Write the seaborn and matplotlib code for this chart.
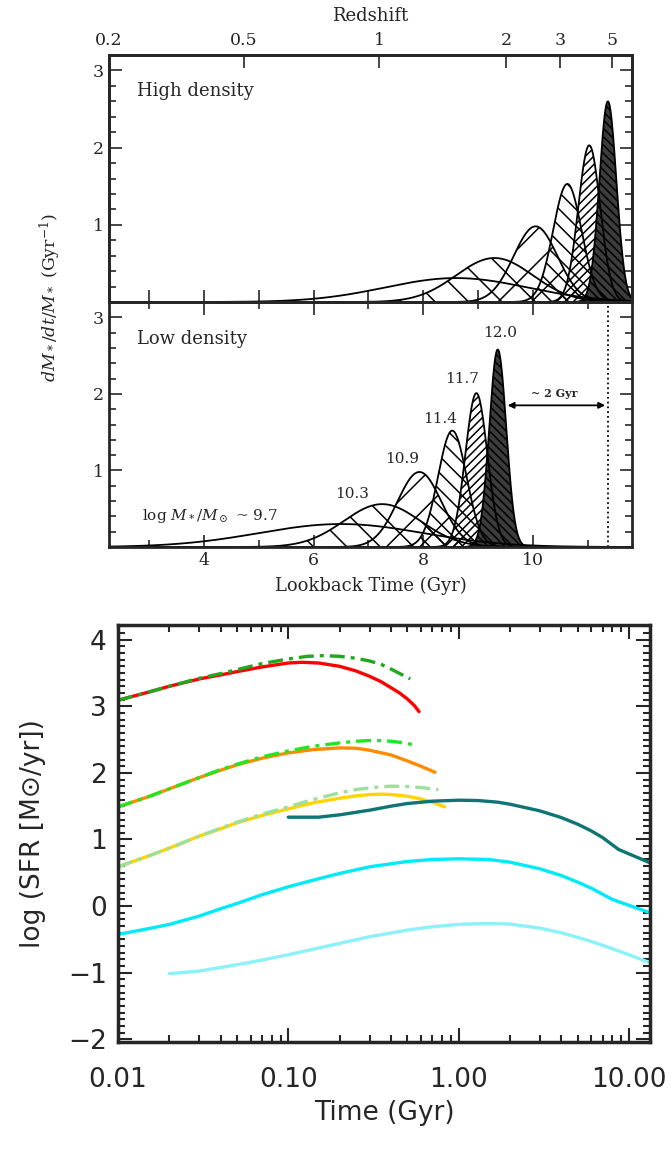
import numpy as np
import pandas as pd
import matplotlib
matplotlib.use('Agg')
import matplotlib.pyplot as plt
from matplotlib.ticker import MultipleLocator, FixedLocator, NullFormatter, LogLocator
import seaborn as sns

# ---- top panels: star formation histories (peak time, peak height, width) ----
high_peak_t = [8.6, 9.3, 10.05, 10.63, 11.03, 11.37]
high_peak_h = [0.31, 0.57, 0.98, 1.53, 2.03, 2.60]
high_width = [1.3, 0.70, 0.40, 0.26, 0.20, 0.155]
low_peak_t = [6.5, 7.25, 7.93, 8.53, 8.97, 9.36]
low_peak_h = [0.30, 0.56, 0.98, 1.52, 2.01, 2.58]
low_width = [1.5, 0.70, 0.40, 0.26, 0.20, 0.155]
hatches = [None, '\\', '/', '\\\\', '////', '\\\\\\\\']
mass_labels = ['log $M_*/M_\\odot$ ~ 9.7', '10.3', '10.9', '11.4', '11.7', '12.0']
mass_label_xy = [(2.86, 0.40), (6.71, 0.69), (7.61, 1.15), (8.31, 1.67), (8.71, 2.20), (9.41, 2.80)]

redshift_labels = ['0.2', '0.5', '1', '2', '3', '5']
redshift_lookback = [2.24, 4.71, 7.18, 9.51, 10.49, 11.45]

# ---- bottom panel: log SFR vs time ----
red_t = [0.01, 0.015, 0.02, 0.03, 0.04, 0.05, 0.07, 0.1, 0.12, 0.15, 0.2, 0.25, 0.3, 0.35, 0.4, 0.45, 0.5, 0.55, 0.586]
red_y = [3.09, 3.21, 3.30, 3.41, 3.47, 3.52, 3.59, 3.65, 3.66, 3.65, 3.60, 3.53, 3.45, 3.37, 3.28, 3.20, 3.11, 3.01, 2.92]
dgreen_t = [0.01, 0.015, 0.02, 0.03, 0.04, 0.05, 0.07, 0.1, 0.13, 0.16, 0.2, 0.25, 0.3, 0.35, 0.4, 0.46, 0.52]
dgreen_y = [3.09, 3.21, 3.30, 3.42, 3.49, 3.55, 3.64, 3.71, 3.75, 3.76, 3.75, 3.72, 3.68, 3.63, 3.56, 3.48, 3.41]
orange_t = [0.01, 0.015, 0.02, 0.03, 0.04, 0.05, 0.07, 0.1, 0.14, 0.2, 0.25, 0.3, 0.4, 0.5, 0.6, 0.726]
orange_y = [1.49, 1.64, 1.76, 1.93, 2.04, 2.12, 2.22, 2.30, 2.35, 2.375, 2.37, 2.34, 2.27, 2.18, 2.10, 2.01]
lime_t = [0.01, 0.015, 0.02, 0.03, 0.04, 0.05, 0.07, 0.1, 0.14, 0.2, 0.25, 0.3, 0.35, 0.4, 0.48, 0.57]
lime_y = [1.49, 1.64, 1.76, 1.93, 2.05, 2.13, 2.24, 2.33, 2.40, 2.45, 2.475, 2.485, 2.485, 2.475, 2.45, 2.41]
gold_t = [0.01, 0.015, 0.02, 0.03, 0.04, 0.05, 0.07, 0.1, 0.14, 0.2, 0.25, 0.3, 0.35, 0.4, 0.5, 0.6, 0.7, 0.83]
gold_y = [0.59, 0.75, 0.87, 1.05, 1.16, 1.25, 1.36, 1.46, 1.55, 1.62, 1.655, 1.675, 1.68, 1.675, 1.65, 1.61, 1.56, 1.49]
pgreen_t = [0.01, 0.015, 0.02, 0.03, 0.04, 0.05, 0.07, 0.1, 0.14, 0.2, 0.25, 0.3, 0.35, 0.4, 0.5, 0.6, 0.76]
pgreen_y = [0.59, 0.75, 0.87, 1.05, 1.17, 1.26, 1.38, 1.49, 1.60, 1.70, 1.75, 1.775, 1.79, 1.80, 1.795, 1.78, 1.75]
teal_t = [0.10, 0.15, 0.2, 0.3, 0.4, 0.5, 0.7, 1.0, 1.3, 1.7, 2.0, 3, 4, 5, 6, 7, 8.7, 13.3]
teal_y = [1.335, 1.335, 1.37, 1.44, 1.50, 1.54, 1.575, 1.59, 1.585, 1.56, 1.53, 1.43, 1.33, 1.23, 1.13, 1.03, 0.85, 0.65]
cyan_t = [0.01, 0.015, 0.02, 0.03, 0.04, 0.05, 0.07, 0.1, 0.15, 0.2, 0.3, 0.5, 0.7, 1.0, 1.5, 2, 3, 4, 5, 6, 8, 13.3]
cyan_y = [-0.425, -0.34, -0.275, -0.15, -0.04, 0.04, 0.17, 0.29, 0.41, 0.49, 0.59, 0.67, 0.70, 0.71, 0.70, 0.66, 0.56, 0.46, 0.36, 0.27, 0.10, -0.10]
lcyan_t = [0.02, 0.03, 0.05, 0.07, 0.1, 0.15, 0.2, 0.3, 0.5, 0.7, 1.0, 1.5, 2, 3, 4, 5, 6, 8, 10, 13.3]
lcyan_y = [-1.015, -0.975, -0.88, -0.81, -0.73, -0.63, -0.56, -0.46, -0.36, -0.31, -0.275, -0.26, -0.27, -0.33, -0.40, -0.47, -0.53, -0.64, -0.73, -0.85]

sns.set_style('ticks')
plt.rcParams['font.family'] = ['DejaVu Serif']
plt.rcParams['mathtext.fontset'] = 'dejavuserif'
plt.rcParams['hatch.linewidth'] = 1.1

fig = plt.figure(figsize=(6.71, 11.71), dpi=100)
W, H = 671.0, 1171.0

def px_axes(left, top, right, bottom):
    return fig.add_axes([left / W, 1 - bottom / H, (right - left) / W, (bottom - top) / H])

ax_hi = px_axes(109, 55, 632, 302)
ax_lo = px_axes(109, 302, 632, 547)

t_grid = np.linspace(2.0, 12.0, 800)

def draw_sfh(ax, peak_t, peak_h, widths):
    for i in range(len(peak_t)):
        y = peak_h[i] * np.exp(-0.5 * ((t_grid - peak_t[i]) / widths[i]) ** 2)
        if hatches[i] is not None:
            face = '#3c3c3c' if i == len(peak_t) - 1 else 'none'
            ax.fill_between(t_grid, 0, y, facecolor=face, edgecolor='black',
                            hatch=hatches[i], linewidth=0)
        sns.lineplot(x=t_grid, y=y, ax=ax, color='black', lw=1.3)

for ax in (ax_hi, ax_lo):
    ax.set_xlim(2.265, 11.81)
    ax.set_ylim(0, 3.2)
    ax.xaxis.set_major_locator(MultipleLocator(2))
    ax.xaxis.set_minor_locator(MultipleLocator(1))
    ax.yaxis.set_major_locator(FixedLocator([1, 2, 3]))
    ax.yaxis.set_minor_locator(MultipleLocator(0.2))
    ax.tick_params(which='both', direction='in', top=True, right=True, labelsize=12.5, width=1.2)
    ax.tick_params(which='major', length=9)
    ax.tick_params(which='minor', length=5)
    for s in ax.spines.values():
        s.set_linewidth(2.0)

draw_sfh(ax_hi, high_peak_t, high_peak_h, high_width)
draw_sfh(ax_lo, low_peak_t, low_peak_h, low_width)

ax_hi.tick_params(labelbottom=False, top=False)
ax_hi.xaxis.set_major_locator(MultipleLocator(1))
ax_lo.set_xlabel('Lookback Time (Gyr)', fontsize=13, labelpad=6)

ax_z = ax_hi.twiny()
ax_z.set_xlim(ax_hi.get_xlim())
ax_z.set_xticks(redshift_lookback)
ax_z.set_xticklabels(redshift_labels)
ax_z.tick_params(direction='in', length=9, width=1.2, labelsize=12.5, pad=4)
ax_z.set_xlabel('Redshift', fontsize=13, labelpad=8)
for s in ax_z.spines.values():
    s.set_linewidth(2.0)

ax_hi.text(2.78, 2.73, 'High density', fontsize=13, va='center')
ax_lo.text(2.78, 2.72, 'Low density', fontsize=13, va='center')
for lab, (x, y) in zip(mass_labels, mass_label_xy):
    ax_lo.text(x, y, lab, fontsize=11, va='center', ha='left' if x < 4 else 'center')
ax_lo.axvline(11.37, color='black', ls=':', lw=1.3)
ax_lo.annotate('', xy=(9.49, 1.85), xytext=(11.37, 1.85),
               arrowprops=dict(arrowstyle='<|-|>', color='black', lw=1.3, mutation_scale=9))
ax_lo.text(10.39, 2.0, '~ 2 Gyr', fontsize=8, ha='center', va='center', fontweight='bold')

fig.text(50 / W, 1 - 297 / H, r'$dM_*/dt/M_*$ (Gyr$^{-1}$)', rotation=90,
         ha='center', va='center', fontsize=12.5)

# ---- bottom panel ----
ax_b = px_axes(118, 625, 650, 1042)
sans = ['DejaVu Sans']
solid = [(red_t, red_y, '#ff0000'), (orange_t, orange_y, '#ff8c00'),
         (gold_t, gold_y, '#ffd400'), (teal_t, teal_y, '#0e7474'),
         (cyan_t, cyan_y, '#00eaf8'), (lcyan_t, lcyan_y, '#8af2f8')]
dashdot = [(dgreen_t, dgreen_y, '#1fa81f'), (lime_t, lime_y, '#22e622'),
           (pgreen_t, pgreen_y, '#9be09b')]
for t, y, c in solid:
    sns.lineplot(x=t, y=y, ax=ax_b, color=c, lw=2.4, sort=False)
for t, y, c in dashdot:
    sns.lineplot(x=t, y=y, ax=ax_b, color=c, lw=2.4, sort=False,
                 linestyle=(0, (4.5, 1.8, 1.2, 1.8)))

ax_b.set_xscale('log')
ax_b.set_xlim(0.01, 13.3)
ax_b.set_ylim(-2.04, 4.22)
ax_b.set_xticks([0.01, 0.1, 1, 10])
ax_b.set_xticklabels(['0.01', '0.10', '1.00', '10.00'], family=sans)
ax_b.xaxis.set_minor_locator(LogLocator(base=10, subs=np.arange(2, 10)))
ax_b.xaxis.set_minor_formatter(NullFormatter())
ax_b.yaxis.set_major_locator(MultipleLocator(1))
ax_b.yaxis.set_minor_locator(MultipleLocator(0.1))
for lab in ax_b.get_yticklabels():
    lab.set_family(sans)
ax_b.tick_params(which='both', direction='in', top=True, right=True, width=1.5, labelsize=19)
ax_b.tick_params(which='major', length=10)
ax_b.tick_params(which='minor', length=5)
ax_b.tick_params(axis='y', which='major', pad=8)
ax_b.tick_params(axis='x', which='major', pad=18)
for s in ax_b.spines.values():
    s.set_linewidth(2.5)
ax_b.set_xlabel('Time (Gyr)', fontsize=19, family=sans, labelpad=5)
ax_b.set_ylabel('log (SFR [M\u2299/yr])', fontsize=19, family=sans, labelpad=16)

fig.savefig('out.png', dpi=100)
